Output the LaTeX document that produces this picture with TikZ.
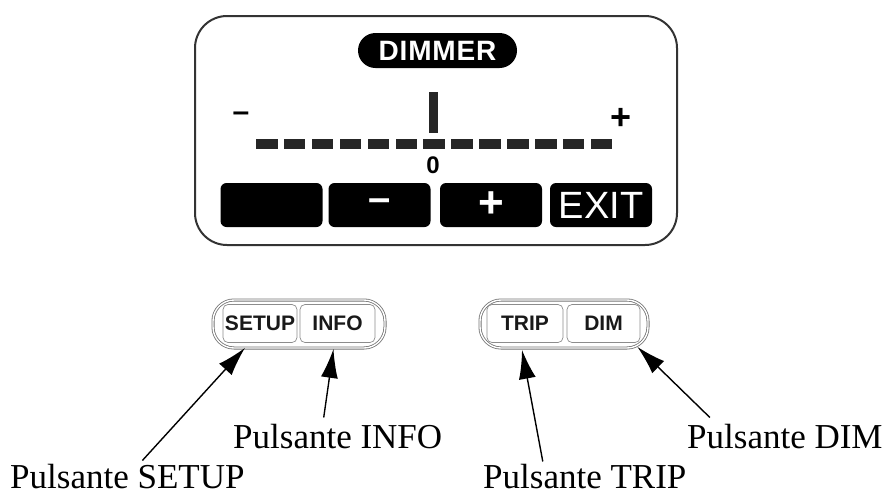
\documentclass[tikz,border=0pt]{standalone}
\usepackage{fontspec}
\setmainfont{Liberation Serif}
\setsansfont{Liberation Sans}
\usetikzlibrary{arrows.meta}

\begin{document}
\begin{tikzpicture}[
    x=1pt, y=-1pt,
    >={Latex[length=29pt,width=17pt]},
    every edge/.style={draw, line width=1.4pt},
    lcd/.style={fill=black, text=white, inner sep=0pt},
    softkey/.style={lcd, rounded corners=6pt, minimum width=102pt, minimum height=44pt},
    segment/.style={fill=black!85},
    glyph/.style={inner sep=0pt, font=\sffamily\bfseries\fontsize{#1}{#1}\selectfont},
    pill/.style={draw=black!55, double=white, double distance=1.4pt, line width=0.8pt, rounded corners=21pt, minimum height=48pt},
    key/.style={draw=black!45, line width=0.7pt, rounded corners=5pt, minimum height=38pt, inner sep=0pt, font=\sffamily\bfseries\fontsize{21}{21}\selectfont, text=black!90},
    callout/.style={anchor=base west, inner sep=0pt, text depth=0pt, font=\fontsize{35}{40}\selectfont}]

    \useasboundingbox (0,0) rectangle (887,496);

    % display
    \node at (436,130.5) [draw=black!80, line width=2pt, rounded corners=32pt, minimum width=482pt, minimum height=229pt] (lcd) {};
    \node at (437.5,50.5) [lcd, glyph=28, rounded corners=17.5pt, minimum width=159pt, minimum height=35pt] (title) {\addfontfeature{LetterSpace=3}DIMMER};

    % scale
    \node at (241,117) [glyph=30] (lo) {–};
    \node at (621,119) [glyph=36] (hi) {+};
    \foreach \i in {0,...,12}
        \fill[segment] (256+\i*27.9,139) rectangle +(21.5,10);
    \fill[segment] (428.5,92) rectangle (437.5,133);
    \node at (433,165) [glyph=24] (zero) {0};

    % soft keys
    \node at (271.5,205) [softkey] (k1) {};
    \node at (379.5,205) [softkey, glyph=40] (k2) {–};
    \node at (491,205) [softkey, glyph=44] (k3) {+};
    \node at (601,205) [softkey, font=\sffamily\fontsize{38}{38}\selectfont] (k4) {EXIT};

    % push buttons
    \node at (299,324) [pill, minimum width=172pt] (left) {};
    \node at (260,323.5) [key, minimum width=74pt] (setup) {SETUP};
    \node at (337.5,323.5) [key, minimum width=75pt] (info) {INFO};
    \node at (564,324) [pill, minimum width=168pt] (right) {};
    \node at (525,323.5) [key, minimum width=76pt] (trip) {TRIP};
    \node at (603.5,323.5) [key, minimum width=73pt] (dim) {DIM};

    \node at (10,488) [callout] (lsetup) {Pulsante SETUP};
    \node at (233,448) [callout] (linfo) {Pulsante INFO};
    \node at (483,488) [callout] (ltrip) {Pulsante TRIP};
    \node at (687,448) [callout] (ldim) {Pulsante DIM};

    \path ([xshift=15pt,yshift=3pt]lsetup.north) edge [->] ([xshift=-15pt,yshift=-5pt]setup.south);
    \path ([xshift=-14pt,yshift=6pt]linfo.north) edge [->] ([xshift=-4pt,yshift=-6pt]info.south);
    \path ([xshift=-42pt,yshift=2pt]ltrip.north) edge [->] ([xshift=-3pt,yshift=-7pt]trip.south);
    \path ([xshift=-75pt,yshift=6pt]ldim.north) edge [->] ([xshift=-3pt,yshift=-4pt]dim.south east);

\end{tikzpicture}
\end{document}
